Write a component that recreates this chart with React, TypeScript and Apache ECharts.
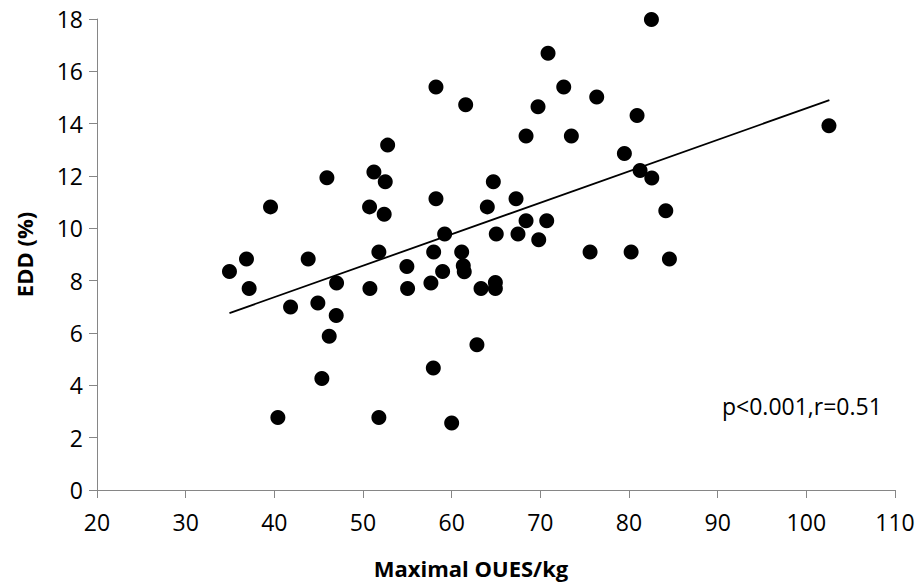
import React, { useEffect, useRef } from "react";
import * as echarts from "echarts";

const xValues = [
  70.87, 58.23, 61.58, 69.74, 52.78, 68.39, 45.93, 51.23, 52.51, 64.7,
  39.57, 50.74, 52.39, 58.23, 67.26, 64.02, 59.21, 68.39, 70.72, 65.03,
  67.48, 69.82, 82.53, 72.64, 76.36, 80.91, 73.5, 79.48, 81.25, 82.57,
  102.55, 84.15, 36.86, 34.94, 37.16, 43.82, 51.79, 47.02, 41.83, 44.91,
  46.98, 46.19, 45.36, 40.4, 51.79, 60.0, 57.93, 62.85, 50.78, 54.95,
  55.03, 57.97, 61.13, 58.98, 57.66, 61.31, 61.42, 63.31, 64.93, 64.93,
  75.61, 80.24, 84.56,
];
const yValues = [
  16.69, 15.4, 14.72, 14.65, 13.18, 13.53, 11.93, 12.15, 11.78, 11.78,
  10.82, 10.82, 10.54, 11.13, 11.13, 10.82, 9.78, 10.29, 10.29, 9.78,
  9.78, 9.56, 17.98, 15.4, 15.02, 14.31, 13.53, 12.86, 12.21, 11.92,
  13.92, 10.67, 8.83, 8.35, 7.7, 8.83, 9.1, 7.91, 6.99, 7.15,
  6.67, 5.88, 4.26, 2.77, 2.77, 2.56, 4.66, 5.55, 7.7, 8.54,
  7.7, 9.1, 9.1, 8.35, 7.91, 8.57, 8.34, 7.7, 7.93, 7.7,
  9.1, 9.1, 8.83,
];
const trendX = [34.94, 102.6];
const trendY = [6.76, 14.9];
const xAxisTitle = "Maximal OUES/kg";
const yAxisTitle = "EDD (%)";
const annotation = "p<0.001,r=0.51";

const FONT = "'Open Sans', 'Noto Sans', sans-serif";

export default function App() {
  const ref = useRef<HTMLDivElement>(null);
  useEffect(() => {
    if (!ref.current) return;
    const chart = echarts.init(ref.current, undefined, { renderer: "svg" });
    const points = xValues.map((x, i) => [x, yValues[i]]);
    const trend = trendX.map((x, i) => [x, trendY[i]]);
    chart.setOption({
      animation: false,
      backgroundColor: "#ffffff",
      grid: { left: 97, right: 24, top: 19, bottom: 98, containLabel: false },
      xAxis: {
        type: "value",
        min: 20,
        max: 110,
        interval: 10,
        name: xAxisTitle,
        nameLocation: "middle",
        nameGap: 67,
        nameTextStyle: {
          fontFamily: FONT,
          fontSize: 22,
          fontWeight: "bold",
          color: "#000",
          padding: [0, 50, 0, 0],
        },
        axisLine: { show: true, lineStyle: { color: "#868686", width: 1 } },
        axisTick: { show: true, inside: false, length: 8, lineStyle: { color: "#868686" } },
        axisLabel: { fontFamily: FONT, fontSize: 23, color: "#000", margin: 20 },
        splitLine: { show: false },
      },
      yAxis: {
        type: "value",
        min: 0,
        max: 18,
        interval: 2,
        name: yAxisTitle,
        nameLocation: "middle",
        nameGap: 62,
        nameRotate: 90,
        nameTextStyle: {
          fontFamily: FONT,
          fontSize: 22,
          fontWeight: "bold",
          color: "#000",
        },
        axisLine: { show: true, lineStyle: { color: "#868686", width: 1 } },
        axisTick: { show: true, inside: false, length: 8, lineStyle: { color: "#868686" } },
        axisLabel: { fontFamily: FONT, fontSize: 23, color: "#000", margin: 14 },
        splitLine: { show: false },
      },
      series: [
        {
          type: "scatter",
          data: points,
          symbol: "circle",
          symbolSize: 15,
          itemStyle: { color: "#000000", opacity: 1 },
          z: 3,
        },
        {
          type: "line",
          data: trend,
          showSymbol: false,
          symbol: "none",
          lineStyle: { color: "#000000", width: 1.8 },
          z: 2,
        },
      ],
      graphic: [
        {
          type: "text",
          left: 722,
          top: 394,
          style: {
            text: annotation,
            fontFamily: FONT,
            fontSize: 23,
            fill: "#000",
          },
        },
      ],
    });
    return () => chart.dispose();
  }, []);
  return (
    <div
      ref={ref}
      style={{ position: "absolute", left: 0, top: 0, width: 919, height: 588 }}
    />
  );
}
